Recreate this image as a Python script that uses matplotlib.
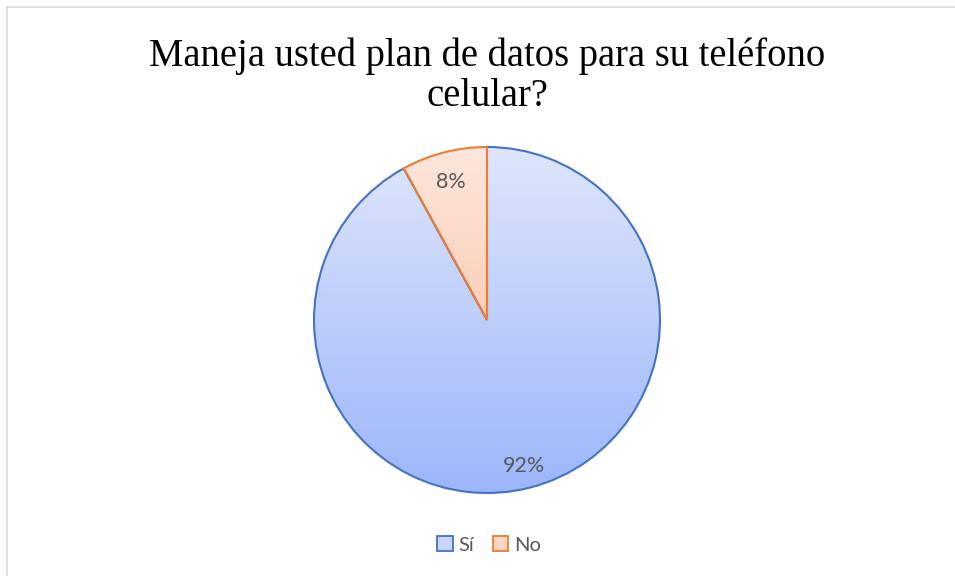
import numpy as np
import matplotlib
matplotlib.use("Agg")
import matplotlib.pyplot as plt
from matplotlib.patches import Patch
from matplotlib.lines import Line2D
from matplotlib.colors import LinearSegmentedColormap

categories = ["Sí", "No"]
values = [92, 8]
title = "Maneja usted plan de datos para su teléfono\ncelular?"

edge_colors = ["#4472C4", "#ED7D31"]
grad_top = ["#dfe6fc", "#fde6dc"]
grad_bot = ["#9cb6fa", "#f9b894"]

W, H = 955, 576
fig = plt.figure(figsize=(W / 100, H / 100), dpi=100)
fig.patch.set_facecolor("white")

cx, cy, r = 487, 320, 173
ax = fig.add_axes([(cx - r) / W, (H - cy - r) / H, 2 * r / W, 2 * r / H])
ax.axis("off")

wedges, texts, autotexts = ax.pie(
    values, startangle=90, counterclock=False, radius=1,
    autopct=lambda p: f"{p:.0f}%", pctdistance=0.85,
    wedgeprops=dict(linewidth=1.5, facecolor="none"),
    textprops=dict(fontfamily="Lato", fontsize=15.5, color="#595959"),
)
for w, ec in zip(wedges, edge_colors):
    w.set_edgecolor(ec)
    w.set_zorder(3)

grad = np.linspace(0, 1, 256).reshape(-1, 1)
for w, top, bot in zip(wedges, grad_top, grad_bot):
    cmap = LinearSegmentedColormap.from_list("g", [top, bot])
    im = ax.imshow(grad, cmap=cmap, extent=[-1, 1, -1, 1], origin="upper",
                   aspect="auto", zorder=1, interpolation="bilinear")
    im.set_clip_path(w)
for t in autotexts:
    t.set_zorder(5)
    x, y = t.get_position()
    t.set_position((x, y - 0.023))

ax.set_xlim(-1, 1)
ax.set_ylim(-1, 1)
ax.set_aspect("auto")

fig.text(cx / W, 1 - 76 / H, title, ha="center", va="center",
         fontfamily="Liberation Serif", fontsize=27.8, color="#000000",
         linespacing=1.1)

handles = [Patch(facecolor=c1, edgecolor=ec, linewidth=1.3)
           for c1, ec in zip(["#c8d6fc", "#fdd5c2"], edge_colors)]
fig.legend(handles, categories, loc="center", bbox_to_anchor=(489 / W, 1 - 545 / H),
           ncol=2, frameon=False, prop=dict(family="Lato", size=14.5),
           labelcolor="#595959", handlelength=0.75, handleheight=0.75,
           handletextpad=0.3, columnspacing=0.9)

fig.add_artist(Line2D([6.5 / W, 6.5 / W], [0, 1 - 7 / H], color="#d9d9d9", lw=1.2,
                      transform=fig.transFigure))
fig.add_artist(Line2D([6.5 / W, 1], [1 - 7 / H, 1 - 7 / H], color="#d9d9d9", lw=1.2,
                      transform=fig.transFigure))

fig.savefig("out.png", dpi=100, facecolor="white")
